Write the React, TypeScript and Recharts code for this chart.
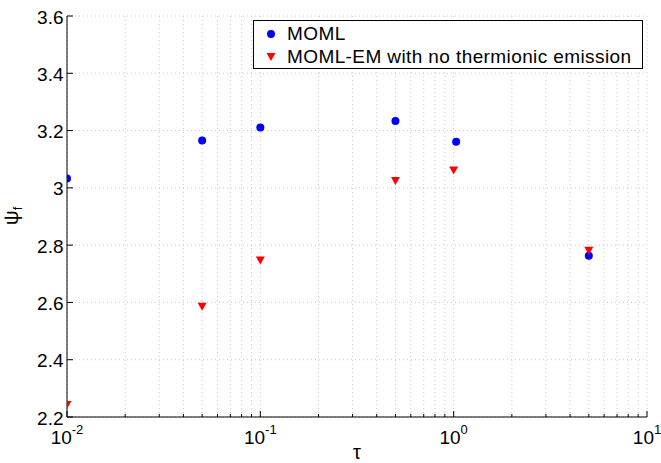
import React from "react";
import { ScatterChart, Scatter, XAxis, YAxis, CartesianGrid, Legend } from "recharts";

// tau values and final potential for each series
const tauMoml = [0.01, 0.05, 0.1, 0.5, 1.03, 5];
const psiMoml = [3.033, 3.165, 3.211, 3.233, 3.161, 2.763];
const tauEm = [0.01, 0.05, 0.1, 0.5, 1, 5];
const psiEm = [2.242, 2.585, 2.746, 3.024, 3.061, 2.78];

const seriesNames = ["MOML", "MOML-EM with no thermionic emission"];
const seriesColors = ["#0000ff", "#ff0000"];

const xTicks = [
  0.01, 0.02, 0.03, 0.04, 0.05, 0.06, 0.07, 0.08, 0.09,
  0.1, 0.2, 0.3, 0.4, 0.5, 0.6, 0.7, 0.8, 0.9,
  1, 2, 3, 4, 5, 6, 7, 8, 9, 10,
];
const yTicks = [2.2, 2.4, 2.6, 2.8, 3, 3.2, 3.4, 3.6];

const momlData = tauMoml.map((x, i) => ({ x, y: psiMoml[i] }));
const emData = tauEm.map((x, i) => ({ x, y: psiEm[i] }));

const FONT = "'Liberation Sans', Arial, Helvetica, sans-serif";

const isDecade = (v: number) =>
  Math.abs(Math.log10(v) - Math.round(Math.log10(v))) < 1e-6;

function BottomTick({ x, y, payload }: any) {
  const v = payload.value;
  const major = isDecade(v);
  return (
    <g>
      <line x1={x} y1={y} x2={x} y2={y - (major ? 6 : 3)} stroke="#000" />
      {major && (
        <text x={x} y={y + 27} textAnchor="middle" fontSize={19} fill="#000" fontFamily={FONT}>
          <tspan>10</tspan>
          <tspan dy={-10} fontSize={13}>{Math.round(Math.log10(v))}</tspan>
        </text>
      )}
    </g>
  );
}

function TopTick({ x, y, payload }: any) {
  const major = isDecade(payload.value);
  return <line x1={x} y1={y} x2={x} y2={y + (major ? 6 : 3)} stroke="#000" />;
}

function LeftTick({ x, y, payload }: any) {
  const label = String(Number(payload.value.toFixed(1)));
  return (
    <g>
      <line x1={x} y1={y} x2={x + 6} y2={y} stroke="#000" />
      <text x={x - 3.5} y={y} dy={7.5} textAnchor="end" fontSize={19} fill="#000" fontFamily={FONT}>
        {label}
      </text>
    </g>
  );
}

function RightTick({ x, y }: any) {
  return <line x1={x} y1={y} x2={x - 6} y2={y} stroke="#000" />;
}

const Dot = ({ cx, cy }: any) => <circle cx={cx} cy={cy} r={4} fill={seriesColors[0]} />;
const DownTriangle = ({ cx, cy }: any) => (
  <polygon
    points={`${cx - 4.5},${cy - 4} ${cx + 4.5},${cy - 4} ${cx},${cy + 4}`}
    fill={seriesColors[1]}
  />
);

function LegendBox() {
  return (
    <div
      style={{
        position: "relative",
        width: 390,
        height: 49,
        boxSizing: "border-box",
        border: "1px solid #000",
        background: "#fff",
        fontFamily: FONT,
        fontSize: 19,
        letterSpacing: 0.4,
        color: "#000",
      }}
    >
      {seriesNames.map((name, i) => (
        <div
          key={name}
          style={{
            position: "absolute",
            left: 0,
            top: 1.3 + i * 23,
            height: 23,
            lineHeight: "23px",
            whiteSpace: "nowrap",
          }}
        >
          <svg width={10} height={10} style={{ position: "absolute", left: 12, top: 6.5 }}>
            {i === 0 ? (
              <circle cx={5} cy={5} r={4} fill={seriesColors[0]} />
            ) : (
              <polygon points="0.5,1 9.5,1 5,9" fill={seriesColors[1]} />
            )}
          </svg>
          <span style={{ position: "absolute", left: 33 }}>{name}</span>
        </div>
      ))}
    </div>
  );
}

const YLabel = () => (
  <text transform="translate(18,216) rotate(-90)" textAnchor="middle" fontSize={21} fill="#000" fontFamily={FONT}>
    ψ<tspan fontSize={13} dy={4}>f</tspan>
  </text>
);

const XLabel = () => (
  <text x={357} y={459} textAnchor="middle" fontSize={20} fill="#000" fontFamily={FONT}>
    τ
  </text>
);

export default function App() {
  return (
    <div style={{ position: "absolute", left: 0, top: 0, background: "#fff" }}>
      <ScatterChart width={661} height={463} margin={{ top: 16, right: 14, bottom: 0, left: 0 }}>
        <CartesianGrid stroke="#c8c8c8" strokeDasharray="1 3" />
        <XAxis
          dataKey="x"
          type="number"
          scale="log"
          domain={[0.01, 10]}
          ticks={xTicks}
          interval={0}
          allowDataOverflow
          height={46}
          tickSize={0}
          tickMargin={0}
          tickLine={false}
          tick={<BottomTick />}
          axisLine={{ stroke: "#000" }}
          label={{ content: <XLabel /> }}
        />
        <XAxis
          xAxisId="top"
          orientation="top"
          type="number"
          scale="log"
          domain={[0.01, 10]}
          ticks={xTicks}
          interval={0}
          allowDataOverflow
          height={0}
          tickSize={0}
          tickMargin={0}
          tickLine={false}
          tick={<TopTick />}
          axisLine={{ stroke: "#000" }}
        />
        <YAxis
          dataKey="y"
          type="number"
          domain={[2.2, 3.6]}
          ticks={yTicks}
          interval={0}
          allowDataOverflow
          width={67}
          tickSize={0}
          tickMargin={0}
          tickLine={false}
          tick={<LeftTick />}
          axisLine={{ stroke: "#000" }}
          label={{ content: <YLabel /> }}
        />
        <YAxis
          yAxisId="right"
          orientation="right"
          type="number"
          domain={[2.2, 3.6]}
          ticks={yTicks}
          interval={0}
          allowDataOverflow
          width={0}
          tickSize={0}
          tickMargin={0}
          tickLine={false}
          tick={<RightTick />}
          axisLine={{ stroke: "#000" }}
        />
        <Legend
          layout="vertical"
          align="center"
          verticalAlign="middle"
          content={<LegendBox />}
          wrapperStyle={{ left: 253, top: 20, width: 390, height: 49 }}
        />
        <Scatter name={seriesNames[0]} data={momlData} shape={<Dot />} isAnimationActive={false} />
        <Scatter name={seriesNames[1]} data={emData} shape={<DownTriangle />} isAnimationActive={false} />
      </ScatterChart>
    </div>
  );
}
